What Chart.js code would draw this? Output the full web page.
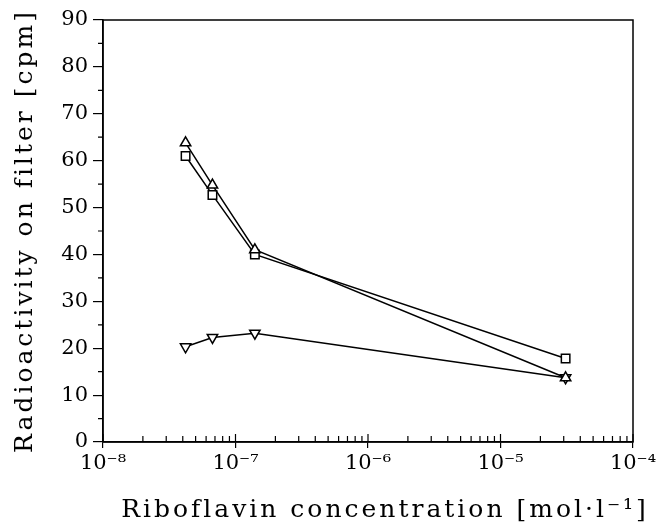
<!DOCTYPE html>
<html>
<head>
<meta charset="utf-8">
<script src="https://cdn.jsdelivr.net/npm/chart.js@4/dist/chart.umd.min.js"></script>
<style>
    html, body { margin: 0; padding: 0; background: #fff; }
    #wrap { width: 660px; height: 529px; }
</style>
</head>
<body>
<div id="wrap"><canvas id="myChart" width="660" height="529"></canvas></div>
<script>
    var concentrations = [4.2e-8, 6.7e-8, 1.4e-7, 3.1e-5],
        seriesTriangle = [63.8, 54.8, 41, 13.7],
        seriesSquare = [61, 52.7, 40, 17.8],
        seriesInverted = [20.3, 22.3, 23.2, 13.7],
        xTicks = [1e-8, 1e-7, 1e-6, 1e-5, 1e-4],
        xTickLabels = ['10⁻⁸', '10⁻⁷', '10⁻⁶', '10⁻⁵', '10⁻⁴'],
        yMinorTicks = [5, 15, 25, 35, 45, 55, 65, 75, 85],
        FONT = '"DejaVu Serif", "Liberation Serif", serif';

    function toPoints(values) {
        return values.map(function (v, i) {
            return { x: concentrations[i], y: v };
        });
    }

    function series(values, style, rotation) {
        return {
            data: toPoints(values),
            borderColor: '#000',
            borderWidth: 1.5,
            backgroundColor: '#fff',
            pointStyle: style,
            pointRotation: rotation,
            pointRadius: 6,
            pointBorderWidth: 1.5,
            pointBorderColor: '#000',
            pointBackgroundColor: '#fff',
            fill: false,
            tension: 0
        };
    }

    // axis titles in the original are typeset with wide letter spacing;
    // the x title also sits a little right of the plot centre
    var spacedTitles = {
        id: 'spacedTitles',
        beforeDraw: function (chart) {
            ['x', 'y'].forEach(function (id) {
                var scale = chart.scales[id];
                if (scale._spaced) return;
                var orig = scale.drawTitle;
                scale.drawTitle = function () {
                    var ctx = this.ctx;
                    ctx.save();
                    ctx.letterSpacing = '3px';
                    if (id === 'x') ctx.translate(17, 0);
                    orig.apply(this, arguments);
                    ctx.restore();
                };
                scale._spaced = true;
            });
        }
    };

    // frame + minor ticks, placed through the chart's own scales
    var framePlugin = {
        id: 'frame',
        afterDraw: function (chart) {
            var ctx = chart.ctx,
                a = chart.chartArea,
                xs = chart.scales.x,
                ys = chart.scales.y,
                d, k, px, py, i;

            ctx.save();
            ctx.strokeStyle = '#000';
            ctx.lineWidth = 1.5;
            ctx.strokeRect(a.left, a.top, a.right - a.left, a.bottom - a.top);

            ctx.lineWidth = 1.2;
            ctx.beginPath();
            for (d = -8; d < -4; d++) {
                for (k = 1; k < 10; k++) {
                    px = xs.getPixelForValue(k * Math.pow(10, d));
                    ctx.moveTo(px, a.bottom);
                    ctx.lineTo(px, a.bottom - (k === 1 ? 8 : 6));
                }
            }
            ctx.moveTo(a.right, a.bottom);
            ctx.lineTo(a.right, a.bottom - 8);
            for (i = 0; i < yMinorTicks.length; i++) {
                py = ys.getPixelForValue(yMinorTicks[i]);
                ctx.moveTo(a.left, py);
                ctx.lineTo(a.left - 5, py);
            }
            ctx.stroke();
            ctx.restore();
        }
    };

    new Chart(document.getElementById('myChart').getContext('2d'), {
        type: 'line',
        data: {
            datasets: [
                series(seriesTriangle, 'triangle', 0),
                series(seriesSquare, 'rect', 0),
                series(seriesInverted, 'triangle', 180)
            ]
        },
        plugins: [spacedTitles, framePlugin],
        options: {
            responsive: false,
            animation: false,
            layout: { padding: { top: 20, right: 27, left: 0, bottom: 0 } },
            plugins: {
                legend: { display: false },
                tooltip: { enabled: false }
            },
            scales: {
                x: {
                    type: 'logarithmic',
                    min: 1e-8,
                    max: 1e-4,
                    afterBuildTicks: function (scale) {
                        scale.ticks = xTicks.map(function (v) {
                            return { value: v, major: true };
                        });
                    },
                    afterFit: function (scale) { scale.height = 87; },
                    grid: {
                        display: true,
                        drawOnChartArea: false,
                        drawTicks: true,
                        tickLength: 6,
                        color: '#000',
                        lineWidth: 1.2
                    },
                    border: { display: true, color: '#000', width: 1.5 },
                    ticks: {
                        color: '#000',
                        padding: 3,
                        maxRotation: 0,
                        autoSkip: false,
                        font: { family: FONT, size: 21 },
                        callback: function (value, index) {
                            return xTickLabels[index];
                        }
                    },
                    title: {
                        display: true,
                        text: 'Riboflavin concentration [mol·l⁻¹]',
                        color: '#000',
                        font: { family: FONT, size: 25 },
                        padding: { top: 10, bottom: 4 }
                    }
                },
                y: {
                    min: 0,
                    max: 90,
                    afterFit: function (scale) { scale.width = 103; },
                    grid: {
                        display: true,
                        drawOnChartArea: false,
                        drawTicks: true,
                        tickLength: 10,
                        color: '#000',
                        lineWidth: 1.2
                    },
                    border: { display: true, color: '#000', width: 1.5 },
                    ticks: {
                        stepSize: 10,
                        color: '#000',
                        padding: 5,
                        font: { family: FONT, size: 21 }
                    },
                    title: {
                        display: true,
                        text: 'Radioactivity on filter [cpm]',
                        color: '#000',
                        font: { family: FONT, size: 25 },
                        padding: { top: 10, bottom: 0 }
                    }
                }
            }
        }
    });
</script>
</body>
</html>
